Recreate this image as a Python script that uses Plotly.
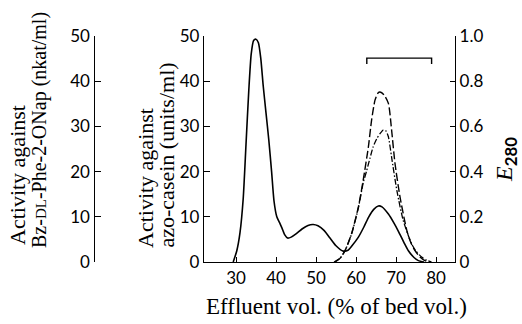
import plotly.graph_objects as go

# ---- data ----
# Solid line: E280 (protein), right axis
e280_x = [29.3, 30.2, 31.0, 31.8, 32.5, 33.2, 33.8, 34.4, 35.0, 35.6, 36.2, 36.8, 37.5, 38.2,
          38.9, 39.5, 40.2, 41.0, 41.5, 42.2, 42.9, 43.8, 45.0, 46.5, 48.0, 49.3, 50.5, 52.0,
          53.5, 55.0, 56.8, 58.0, 59.0, 60.6, 62.0, 63.2, 64.5, 65.6, 66.5, 68.1, 69.5, 70.6,
          72.0, 73.1, 74.5, 75.6, 77.0]
e280_y = [0.0, 0.05, 0.13, 0.28, 0.52, 0.76, 0.92, 0.98, 0.986, 0.97, 0.90, 0.78, 0.66, 0.54,
          0.40, 0.27, 0.20, 0.17, 0.15, 0.12, 0.106, 0.11, 0.124, 0.146, 0.162, 0.166, 0.16, 0.14,
          0.106, 0.072, 0.048, 0.052, 0.072, 0.11, 0.156, 0.20, 0.234, 0.248, 0.244, 0.212, 0.172, 0.136,
          0.086, 0.05, 0.02, 0.006, 0.0]

# Dashed line: activity against azo-casein (units/ml)
azo_x = [54.75, 56.0, 57.25, 58.9, 60.6, 61.8, 63.1, 63.9, 64.75, 65.5, 66.0, 67.0, 68.1, 68.9,
         69.75, 71.0, 72.7, 73.7, 74.75, 76.0, 77.25, 78.5]
azo_y = [0.0, 0.8, 2.5, 6.3, 12.2, 18.1, 25.5, 31.4, 35.8, 37.4, 37.6, 37.0, 35.1, 29.2,
         21.8, 14.4, 7.0, 4.3, 2.5, 1.1, 0.3, 0.0]

# Dash-dot line: activity against Bz-DL-Phe-2-ONap (nkat/ml)
bz_x = [54.5, 56.0, 57.25, 58.9, 60.6, 61.8, 62.7, 63.5, 64.3, 65.2, 66.0, 66.8, 67.5, 68.1,
        68.9, 70.2, 71.8, 73.9, 75.0, 76.4, 77.6, 78.9]
bz_y = [0.0, 0.8, 2.5, 6.2, 12.0, 17.5, 20.3, 23.0, 25.5, 27.3, 28.4, 29.2, 29.0, 27.7,
        23.2, 15.9, 9.2, 4.0, 2.4, 1.1, 0.4, 0.0]

# Pooled fractions bracket
pool_x = [62.7, 62.7, 78.9, 78.9]
pool_y = [43.8, 45.1, 45.1, 43.8]

x_ticks = [30, 40, 50, 60, 70, 80]
y_ticks = [0, 10, 20, 30, 40, 50]
e_ticks = [0, 0.2, 0.4, 0.6, 0.8, 1.0]
e_ticktext = ["0", "0.2", "0.4", "0.6", "0.8", "1.0"]

W, H = 522, 324
L, R, T, B = 0, 67, 36, 62
PW = W - L - R
PH = H - T - B


def px(x):
    return (x - L) / PW


def py(y):
    return (H - B - y) / PH


tick_font = dict(family="Lato, 'Open Sans', sans-serif", size=17, color="black")
serif = "'Liberation Serif', 'Times New Roman', serif"
title_font = dict(family=serif, size=22, color="black")

fig = go.Figure()
fig.add_trace(go.Scatter(x=e280_x, y=e280_y, yaxis="y2", mode="lines",
                         line=dict(color="black", width=1.6, shape="spline", smoothing=0.6),
                         hoverinfo="skip"))
fig.add_trace(go.Scatter(x=azo_x, y=azo_y, yaxis="y", mode="lines",
                         line=dict(color="black", width=1.4, dash="8px,3px", shape="spline", smoothing=0.6),
                         hoverinfo="skip"))
fig.add_trace(go.Scatter(x=bz_x, y=bz_y, yaxis="y3", mode="lines",
                         line=dict(color="black", width=1.3, dash="6px,2px,1.5px,2px", shape="spline", smoothing=0.6),
                         hoverinfo="skip"))
fig.add_trace(go.Scatter(x=pool_x, y=pool_y, yaxis="y", mode="lines",
                         line=dict(color="black", width=1.4), hoverinfo="skip"))

axis_common = dict(showgrid=False, zeroline=False, showline=True, linecolor="black", linewidth=1.3,
                   ticks="inside", tickcolor="black", tickwidth=1.3, tickfont=tick_font)

fig.update_layout(
    width=W, height=H,
    margin=dict(l=L, r=R, t=T, b=B),
    paper_bgcolor="white", plot_bgcolor="white",
    showlegend=False,
    xaxis=dict(domain=[px(204), 1], range=[22, 84.75], tickvals=x_ticks, ticklen=5, **axis_common),
    yaxis=dict(range=[0, 50], tickvals=y_ticks, ticklen=6, anchor="x", **axis_common),
    yaxis2=dict(range=[0, 1.0], tickvals=e_ticks, ticktext=e_ticktext, ticklen=5,
                overlaying="y", side="right", anchor="x", **axis_common),
    yaxis3=dict(range=[0, 50], tickvals=y_ticks, ticklen=6, overlaying="y", side="left",
                anchor="free", position=px(93.5), autoshift=False, **axis_common),
)

ann = []
ann.append(dict(text="Effluent vol. (% of bed vol.)", x=px(336), y=py(306), xanchor="center",
                yanchor="middle", font=dict(family=serif, size=23, color="black")))
ann.append(dict(text="Activity against", x=px(17), y=py(247), xanchor="center", yanchor="bottom",
                textangle=-90, font=title_font))
ann.append(dict(text="Bz-<span style='font-size:15px'>DL</span>-Phe-2-ONap (nkat/ml)", x=px(39), y=py(250),
                xanchor="center", yanchor="bottom", textangle=-90, font=dict(family=serif, size=20, color="black")))
ann.append(dict(text="Activity against", x=px(145), y=py(250), xanchor="center", yanchor="bottom",
                textangle=-90, font=title_font))
ann.append(dict(text="azo-casein (units/ml)", x=px(166), y=py(250), xanchor="center", yanchor="bottom",
                textangle=-90, font=title_font))
ann.append(dict(text="<i>E</i><sub><span style='font-family:Lato, sans-serif; font-weight:bold'>280</span></sub>",
                x=px(506), y=py(160), xanchor="center",
                yanchor="middle", textangle=-90, font=dict(family=serif, size=24, color="black")))
for a in ann:
    a.update(xref="paper", yref="paper", showarrow=False)
fig.update_layout(annotations=ann)

fig.write_html("out.html", config={"displayModeBar": False},
               post_script="document.body.style.margin='0px';")
